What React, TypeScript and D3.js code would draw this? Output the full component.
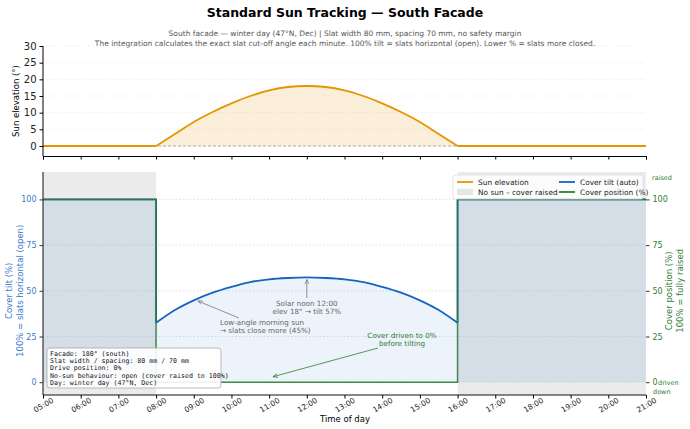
import React, { useRef, useEffect } from "react";
import * as d3 from "d3";

// hours of day and readings taken off the chart
const hours = [5, 6, 7, 8, 9, 10, 11, 12, 13, 14, 15, 16, 17, 18, 19, 20, 21];
const sunTimes = [8, 8.5, 9, 9.5, 10, 10.5, 11, 11.5, 12, 12.5, 13, 13.5, 14, 14.5, 15, 15.5, 16];
const sunElev = [0, 3.6, 7.2, 10.2, 12.8, 15.0, 16.7, 17.7, 18.0, 17.7, 16.7, 15.0, 12.8, 10.2, 7.2, 3.6, 0];
const tiltTimes = [8, 8.5, 9, 9.5, 10, 10.5, 11, 11.5, 12, 12.5, 13, 13.5, 14, 14.5, 15, 15.5, 16];
const tiltVals = [32.5, 39.5, 44.8, 49.0, 52.2, 54.8, 56.3, 57.0, 57.3, 57.0, 56.3, 54.8, 52.2, 49.0, 44.8, 39.5, 32.5];
const posTimes = [5, 8, 8, 16, 16, 21];
const posVals = [100, 100, 0, 0, 100, 100];
const noSun = [[5, 8], [16, 21]];
const elevTicks = [0, 5, 10, 15, 20, 25, 30];
const pctTicks = [0, 25, 50, 75, 100];

const infoLines = [
  "Facade: 180° (south)",
  "Slat width / spacing: 80 mm / 70 mm",
  "Drive position: 0%",
  "No-sun behaviour: open (cover raised to 100%)",
  "Day: winter day (47°N, Dec)",
];

const ORANGE = "#e69500";
const BLUE = "#1565c0";
const GREEN = "#2e7d32";

function App() {
  const svgRef = useRef(null);

  useEffect(() => {
    d3.select(svgRef.current).selectAll("*").remove();
    const svg = d3.select(svgRef.current)
      .attr("width", 690)
      .attr("height", 429)
      .style("font-family", "DejaVu Sans, sans-serif");

    svg.append("rect").attr("width", 690).attr("height", 429).attr("fill", "#fff");

    // scales
    const x = d3.scaleLinear().domain([5, 21]).range([43, 646]);
    const yTop = d3.scaleLinear().domain([-3, 30]).range([156, 46]);
    const yBot = d3.scaleLinear().domain([-7, 115]).range([395, 172]);

    const defs = svg.append("defs");
    defs.append("marker").attr("id", "arrGray").attr("viewBox", "0 0 10 10")
      .attr("refX", 10).attr("refY", 5).attr("markerWidth", 6).attr("markerHeight", 6)
      .attr("orient", "auto-start-reverse")
      .append("path").attr("d", "M0,1 L10,5 L0,9").attr("fill", "none").attr("stroke", "#777").attr("stroke-width", 1.5);
    defs.append("marker").attr("id", "arrGreen").attr("viewBox", "0 0 10 10")
      .attr("refX", 10).attr("refY", 5).attr("markerWidth", 6).attr("markerHeight", 6)
      .attr("orient", "auto-start-reverse")
      .append("path").attr("d", "M0,1 L10,5 L0,9").attr("fill", "none").attr("stroke", GREEN).attr("stroke-width", 1.5);

    // titles
    svg.append("text").attr("x", 345).attr("y", 17).attr("text-anchor", "middle")
      .attr("font-size", 12.5).attr("font-weight", "bold").text("Standard Sun Tracking — South Facade");
    svg.append("text").attr("x", 345).attr("y", 36).attr("text-anchor", "middle")
      .attr("font-size", 7.5).attr("fill", "#555")
      .text("South facade — winter day (47°N, Dec)  |  Slat width 80 mm, spacing 70 mm, no safety margin");
    svg.append("text").attr("x", 345).attr("y", 46).attr("text-anchor", "middle")
      .attr("font-size", 7.5).attr("fill", "#555")
      .text("The integration calculates the exact slat cut-off angle each minute. 100% tilt = slats horizontal (open).  Lower % = slats more closed.");

    // ---------- top panel ----------
    const top = svg.append("g");
    top.selectAll(".gridT").data(elevTicks).join("line")
      .attr("x1", x(5)).attr("x2", x(21))
      .attr("y1", d => yTop(d)).attr("y2", d => yTop(d))
      .attr("stroke", "#ddd").attr("stroke-width", 0.6).attr("stroke-dasharray", "1,2");

    const sunPts = sunTimes.map((t, i) => [t, sunElev[i]]);
    top.append("path")
      .datum(sunPts)
      .attr("d", d3.area().x(d => x(d[0])).y0(yTop(0)).y1(d => yTop(d[1])).curve(d3.curveMonotoneX))
      .attr("fill", ORANGE).attr("fill-opacity", 0.15);
    top.append("line").attr("x1", x(5)).attr("x2", x(21)).attr("y1", yTop(0)).attr("y2", yTop(0))
      .attr("stroke", "#999").attr("stroke-width", 0.8).attr("stroke-dasharray", "3,2");
    const linT = d3.line().x(d => x(d[0])).y(d => yTop(d[1]));
    top.append("path").datum([[5, 0], [8, 0]]).attr("d", linT)
      .attr("fill", "none").attr("stroke", ORANGE).attr("stroke-width", 1.8);
    top.append("path").datum([[16, 0], [21, 0]]).attr("d", linT)
      .attr("fill", "none").attr("stroke", ORANGE).attr("stroke-width", 1.8);
    top.append("path")
      .datum(sunPts)
      .attr("d", d3.line().x(d => x(d[0])).y(d => yTop(d[1])).curve(d3.curveMonotoneX))
      .attr("fill", "none").attr("stroke", ORANGE).attr("stroke-width", 1.8);

    top.append("g").attr("transform", `translate(${x(5)},0)`)
      .call(d3.axisLeft(yTop).tickValues(elevTicks).tickSize(3.5).tickPadding(3))
      .call(g => g.selectAll("text").attr("font-size", 10).attr("fill", "#222").style("font-family", "DejaVu Sans"))
      .call(g => g.select(".domain").attr("d", `M-0,${yTop(-3)}V${yTop(30)}`));
    top.append("g").attr("transform", `translate(0,${yTop(-3)})`)
      .call(d3.axisBottom(x).tickValues(hours).tickSize(3.5).tickFormat(() => ""));
    top.append("text").attr("transform", `translate(19,${yTop(13.5)}) rotate(-90)`)
      .attr("text-anchor", "middle").attr("font-size", 8.5).text("Sun elevation (°)");

    // ---------- bottom panel ----------
    const bot = svg.append("g");
    noSun.forEach(s => {
      bot.append("rect").attr("x", x(s[0])).attr("width", x(s[1]) - x(s[0]))
        .attr("y", yBot(115)).attr("height", yBot(-7) - yBot(115)).attr("fill", "#ebebeb");
    });

    bot.selectAll(".gridB").data(pctTicks).join("line")
      .attr("x1", x(5)).attr("x2", x(21))
      .attr("y1", d => yBot(d)).attr("y2", d => yBot(d))
      .attr("stroke", "#ccc").attr("stroke-width", 0.6).attr("stroke-dasharray", "1.5,2");

    const tiltPts = tiltTimes.map((t, i) => [t, tiltVals[i]]);
    // fills under tilt
    bot.append("rect").attr("x", x(5)).attr("width", x(8) - x(5)).attr("y", yBot(100))
      .attr("height", yBot(0) - yBot(100)).attr("fill", BLUE).attr("fill-opacity", 0.1);
    bot.append("rect").attr("x", x(16)).attr("width", x(21) - x(16)).attr("y", yBot(100))
      .attr("height", yBot(0) - yBot(100)).attr("fill", BLUE).attr("fill-opacity", 0.1);
    bot.append("path").datum(tiltPts)
      .attr("d", d3.area().x(d => x(d[0])).y0(yBot(0)).y1(d => yBot(d[1])).curve(d3.curveMonotoneX))
      .attr("fill", BLUE).attr("fill-opacity", 0.08);

    const lin = d3.line().x(d => x(d[0])).y(d => yBot(d[1]));
    bot.append("path").datum([[5, 100], [8, 100], [8, tiltVals[0]]]).attr("d", lin)
      .attr("fill", "none").attr("stroke", BLUE).attr("stroke-width", 1.8);
    bot.append("path").datum([[16, tiltVals[tiltVals.length - 1]], [16, 100], [21, 100]]).attr("d", lin)
      .attr("fill", "none").attr("stroke", BLUE).attr("stroke-width", 1.8);
    bot.append("path").datum(tiltPts)
      .attr("d", d3.line().x(d => x(d[0])).y(d => yBot(d[1])).curve(d3.curveMonotoneX))
      .attr("fill", "none").attr("stroke", BLUE).attr("stroke-width", 1.8);

    bot.append("path").datum(posTimes.map((t, i) => [t, posVals[i]])).attr("d", lin)
      .attr("fill", "none").attr("stroke", GREEN).attr("stroke-width", 1.5).attr("stroke-opacity", 0.9);

    // left axis
    bot.append("g").attr("transform", `translate(${x(5)},0)`)
      .call(d3.axisLeft(yBot).tickValues(pctTicks).tickSize(3.5).tickPadding(3))
      .call(g => g.selectAll("text").attr("font-size", 8).attr("fill", "#3a78c8").style("font-family", "DejaVu Sans"))
      .call(g => g.selectAll(".tick line").attr("stroke", "#333"))
      .call(g => g.select(".domain").attr("d", `M-0,${yBot(-7)}V${yBot(115)}`).attr("stroke", "#111"));
    const lblL = bot.append("text").attr("transform", `translate(0,${yBot(50)}) rotate(-90)`)
      .attr("text-anchor", "middle").attr("font-size", 8.5).attr("fill", "#3a78c8");
    lblL.append("tspan").attr("x", 0).attr("y", 12).text("Cover tilt (%)");
    lblL.append("tspan").attr("x", 0).attr("y", 23).text("100% = slats horizontal (open)");

    // right axis
    bot.append("g").attr("transform", `translate(${x(21)},0)`)
      .call(d3.axisRight(yBot).tickValues(pctTicks).tickSize(3.5).tickPadding(3))
      .call(g => g.selectAll("text").attr("font-size", 8).attr("fill", GREEN).style("font-family", "DejaVu Sans"))
      .call(g => g.selectAll(".tick line").attr("stroke", "#333"))
      .call(g => g.select(".domain").remove());
    bot.append("text").attr("x", 652).attr("y", yBot(110.5)).attr("font-size", 6.5).attr("fill", GREEN).text("raised");
    bot.append("text").attr("x", 658).attr("y", yBot(0) + 3).attr("font-size", 6.5).attr("fill", GREEN).text("driven");
    bot.append("text").attr("x", 653).attr("y", yBot(0) + 12).attr("font-size", 6.5).attr("fill", GREEN).text("down");
    const lblR = bot.append("text").attr("transform", `translate(690,${yBot(50)}) rotate(-90)`)
      .attr("text-anchor", "middle").attr("font-size", 8.5).attr("fill", GREEN);
    lblR.append("tspan").attr("x", 0).attr("y", -18).text("Cover position (%)");
    lblR.append("tspan").attr("x", 0).attr("y", -7).text("100% = fully raised");

    // bottom axis
    const xAx = bot.append("g").attr("transform", `translate(0,${yBot(-7)})`)
      .call(d3.axisBottom(x).tickValues(hours).tickSize(3.5)
        .tickFormat(d => `${String(d).padStart(2, "0")}:00`))
      .call(g => g.select(".domain").attr("d", `M${x(5)},0H${x(21)}`).attr("stroke", "#111"));
    xAx.selectAll("text").attr("font-size", 7.5).attr("fill", "#222").style("font-family", "DejaVu Sans")
      .attr("text-anchor", "middle").attr("dy", "0.35em").attr("y", 0)
      .attr("transform", "translate(0,10) rotate(-30)");
    bot.append("text").attr("x", 345).attr("y", 422).attr("text-anchor", "middle")
      .attr("font-size", 8.5).text("Time of day");

    // annotations
    const ann = bot.append("g").attr("font-size", 7.2).attr("fill", "#666");
    ann.append("line").attr("x1", x(12)).attr("y1", 298).attr("x2", x(12)).attr("y2", yBot(57.3) + 2)
      .attr("stroke", "#777").attr("stroke-width", 0.8).attr("marker-end", "url(#arrGray)");
    ann.append("text").attr("x", x(12)).attr("y", 306).attr("text-anchor", "middle").text("Solar noon 12:00");
    ann.append("text").attr("x", x(12)).attr("y", 314).attr("text-anchor", "middle").text("elev 18° → tilt 57%");

    ann.append("line").attr("x1", 239).attr("y1", 318).attr("x2", x(9.08) + 1).attr("y2", yBot(45) + 1)
      .attr("stroke", "#777").attr("stroke-width", 0.8).attr("marker-end", "url(#arrGray)");
    ann.append("text").attr("x", 220).attr("y", 325).text("Low-angle morning sun");
    ann.append("text").attr("x", 220).attr("y", 333).text("→ slats close more (45%)");

    ann.append("line").attr("x1", 378).attr("y1", 348).attr("x2", x(11.1)).attr("y2", yBot(3))
      .attr("stroke", GREEN).attr("stroke-width", 0.8).attr("marker-end", "url(#arrGreen)");
    ann.append("text").attr("x", 402).attr("y", 338).attr("text-anchor", "middle").attr("fill", GREEN).text("Cover driven to 0%");
    ann.append("text").attr("x", 402).attr("y", 346).attr("text-anchor", "middle").attr("fill", GREEN).text("before tilting");

    // info box
    const info = bot.append("g").attr("transform", "translate(47,348)");
    info.append("rect").attr("width", 174).attr("height", 40).attr("rx", 3)
      .attr("fill", "#fff").attr("fill-opacity", 0.9).attr("stroke", "#aaa").attr("stroke-width", 0.8);
    info.selectAll("text").data(infoLines).join("text")
      .attr("x", 3).attr("y", (d, i) => 8 + i * 7.2)
      .attr("font-size", 6.6).attr("font-family", "DejaVu Sans Mono, monospace").attr("fill", "#111")
      .text(d => d);

    // legend
    const leg = bot.append("g").attr("transform", "translate(453,175)");
    leg.append("rect").attr("width", 190).attr("height", 24).attr("rx", 2)
      .attr("fill", "#fff").attr("fill-opacity", 0.85).attr("stroke", "#ddd").attr("stroke-width", 0.8);
    const items = [
      { label: "Sun elevation", kind: "line", color: ORANGE, cx: 4, cy: 7 },
      { label: "No sun – cover raised", kind: "patch", color: "#e6e6e6", cx: 4, cy: 17 },
      { label: "Cover tilt (auto)", kind: "line", color: BLUE, cx: 106, cy: 7 },
      { label: "Cover position (%)", kind: "line", color: GREEN, cx: 106, cy: 17 },
    ];
    items.forEach(it => {
      if (it.kind === "line") {
        leg.append("line").attr("x1", it.cx).attr("x2", it.cx + 16).attr("y1", it.cy).attr("y2", it.cy)
          .attr("stroke", it.color).attr("stroke-width", 1.8);
      } else {
        leg.append("rect").attr("x", it.cx).attr("y", it.cy - 3).attr("width", 16).attr("height", 6)
          .attr("fill", it.color);
      }
      leg.append("text").attr("x", it.cx + 21).attr("y", it.cy + 3).attr("font-size", 7.4)
        .attr("fill", "#222").text(it.label);
    });
  }, []);

  return (
    <div>
      <svg ref={svgRef} style={{ position: "absolute", left: 0, top: 0 }}></svg>
    </div>
  );
}

export default App;
